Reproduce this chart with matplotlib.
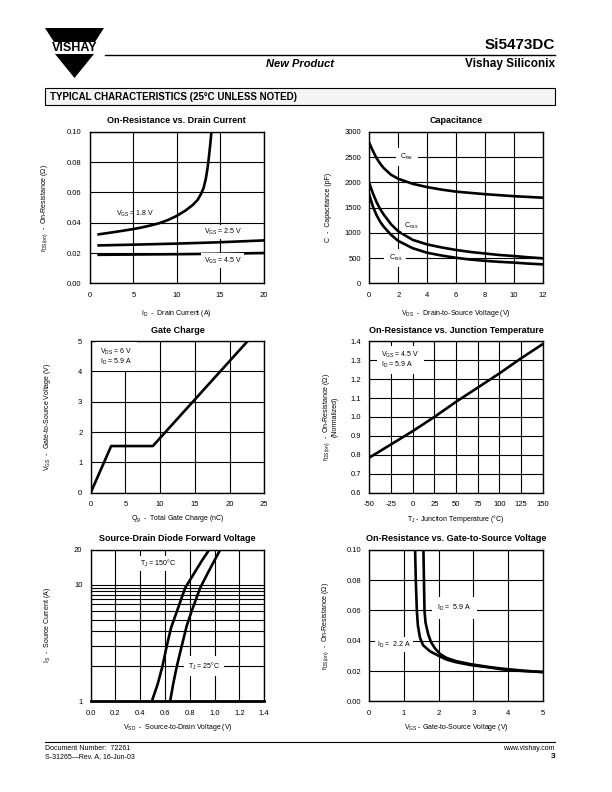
import matplotlib
matplotlib.use("Agg")
import matplotlib.pyplot as plt
from matplotlib.patches import Polygon, Rectangle
from matplotlib.lines import Line2D

plt.rcParams['font.family'] = ['Liberation Sans', 'DejaVu Sans']
plt.rcParams['mathtext.fontset'] = 'custom'
plt.rcParams['mathtext.rm'] = 'Liberation Sans'
plt.rcParams['mathtext.it'] = 'Liberation Sans:italic'
plt.rcParams['mathtext.bf'] = 'Liberation Sans:bold'
plt.rcParams['axes.unicode_minus'] = False

## data ##

# on-resistance vs drain current
id_18 = [1, 3, 5, 6, 7, 8, 9, 10, 11, 11.8, 12.4, 12.8, 13.1, 13.35, 13.55, 13.7, 13.85, 14.0]
r_18 = [0.0323, 0.034, 0.0358, 0.0369, 0.0382, 0.0397, 0.0418, 0.0445, 0.048, 0.0515, 0.055,
        0.059, 0.063, 0.069, 0.076, 0.083, 0.091, 0.100]
id_25 = [1, 5, 10, 15, 20]
r_25 = [0.025, 0.0255, 0.0262, 0.0271, 0.0283]
id_45 = [1, 5, 10, 15, 20]
r_45 = [0.0188, 0.019, 0.0192, 0.0195, 0.020]

# capacitance
vds = [0, 0.25, 0.5, 0.75, 1, 1.5, 2, 3, 4, 5, 6, 7, 8, 9, 10, 11, 12]
ciss = [2780, 2620, 2480, 2370, 2280, 2150, 2070, 1970, 1905, 1855, 1815, 1790, 1765, 1745, 1725, 1710, 1695]
coss = [1980, 1780, 1610, 1470, 1360, 1170, 1030, 860, 770, 710, 660, 620, 590, 560, 540, 515, 495]
crss = [1750, 1520, 1350, 1220, 1120, 960, 840, 695, 605, 550, 505, 470, 445, 425, 410, 390, 375]

# gate charge
qg = [0, 2.95, 8.95, 22.6]
vgs_q = [0, 1.54, 1.54, 5.0]

# on-resistance vs junction temperature
tj = [-50, -25, 0, 25, 50, 75, 100, 125, 150]
r_norm = [0.785, 0.855, 0.925, 1.0, 1.08, 1.155, 1.23, 1.31, 1.385]

# source-drain diode forward voltage
vsd_150 = [0.493, 0.54, 0.579, 0.614, 0.649, 0.695, 0.762, 0.843, 0.90, 0.956]
is_150 = [1, 1.4, 2, 3, 4.3, 5.9, 9.4, 13, 16.3, 20]
vsd_25 = [0.641, 0.665, 0.695, 0.735, 0.776, 0.816, 0.883, 0.951, 1.0, 1.045]
is_25 = [1, 1.4, 2, 3, 4.5, 6, 9.4, 13, 16.3, 20]
is_grid = [2, 3, 4, 5, 6, 6.9, 7.6, 8.2, 8.8, 9.4, 10]

# on-resistance vs gate-to-source voltage
vgs_22 = [1.32, 1.34, 1.37, 1.40, 1.46, 1.55, 1.75, 2.0, 2.23, 2.5, 2.9, 3.4, 3.85, 4.4, 5.0]
r_22 = [0.100, 0.080, 0.060, 0.050, 0.042, 0.037, 0.033, 0.030, 0.0275, 0.0258, 0.024,
        0.0225, 0.021, 0.020, 0.0193]
vgs_59 = [1.56, 1.575, 1.59, 1.62, 1.70, 1.78, 1.89, 2.05, 2.23, 2.5, 2.9, 3.4, 3.85, 4.4, 5.0]
r_59 = [0.100, 0.080, 0.060, 0.052, 0.044, 0.039, 0.035, 0.031, 0.0286, 0.0265, 0.0246,
        0.0228, 0.0215, 0.0203, 0.0193]

W, H = 612.0, 792.0
fig = plt.figure(figsize=(6.12, 7.92), dpi=100)

LW = 1.9
TICK = 5.5
LAB = 5.0
BOX = dict(fc='white', ec='none', pad=1.5)


def make_ax(x, ybot, title, xlab, ylab, xlab_y, ylab_x):
    ax = fig.add_axes([x / W, 1 - ybot / H, 173.5 / W, 151.5 / H])
    ax.set_title(title, fontsize=6.5, fontweight='bold', pad=6)
    ax.set_xlabel(xlab, fontsize=LAB)
    ax.set_ylabel(ylab, fontsize=LAB)
    ax.xaxis.set_label_coords(0.5, xlab_y)
    ax.yaxis.set_label_coords(ylab_x, 0.5)
    ax.tick_params(length=0, labelsize=TICK, pad=6)
    ax.grid(True, color='black', lw=0.8)
    ax.set_axisbelow(True)
    for s in ax.spines.values():
        s.set_linewidth(1.0)
    return ax


def fy(ax, fmt):
    ax.set_yticks(ax.get_yticks())
    ax.set_yticklabels([fmt.format(v) for v in ax.get_yticks()])


# 1. on-resistance vs drain current
ax1 = make_ax(90, 283.3, 'On-Resistance vs. Drain Current',
              r'I$_{\rm D}$  -  Drain Current (A)',
              r'r$_{\rm DS(on)}$  -  On-Resistance ($\Omega$)', -0.165, -0.23)
ax1.plot(id_18, r_18, color='black', lw=LW)
ax1.plot(id_25, r_25, color='black', lw=LW)
ax1.plot(id_45, r_45, color='black', lw=LW)
ax1.set_xlim(0, 20)
ax1.set_ylim(0, 0.10)
ax1.set_xticks([0, 5, 10, 15, 20])
ax1.set_yticks([0, 0.02, 0.04, 0.06, 0.08, 0.10])
fy(ax1, '{:.2f}')
ax1.text(5.2, 0.046, r'V$_{\rm GS}$ = 1.8 V', fontsize=5, ha='center', va='center')
ax1.text(15.3, 0.034, r'V$_{\rm GS}$ = 2.5 V', fontsize=5, ha='center', va='center', bbox=BOX)
ax1.text(15.3, 0.015, r'V$_{\rm GS}$ = 4.5 V', fontsize=5, ha='center', va='center', bbox=BOX)

# 2. capacitance
ax2 = make_ax(369.3, 283.3, 'Capacitance',
              r'V$_{\rm DS}$  -  Drain-to-Source Voltage (V)',
              r'C  -  Capacitance (pF)', -0.165, -0.215)
ax2.plot(vds, ciss, color='black', lw=LW)
ax2.plot(vds, coss, color='black', lw=LW)
ax2.plot(vds, crss, color='black', lw=LW)
ax2.set_xlim(0, 12)
ax2.set_ylim(0, 3000)
ax2.set_xticks(range(0, 13, 2))
ax2.set_yticks(range(0, 3001, 500))
ax2.text(2.6, 2500, r'C$_{\rm iss}$', fontsize=5, ha='center', va='center',
         bbox=dict(fc='white', ec='none', pad=3))
ax2.text(2.9, 1135, r'C$_{\rm oss}$', fontsize=5, ha='center', va='center', bbox=BOX)
ax2.text(1.8, 500, r'C$_{\rm rss}$', fontsize=5, ha='center', va='center',
         bbox=dict(fc='white', ec='none', pad=3))

# 3. gate charge
ax3 = make_ax(90.7, 492.7, 'Gate Charge',
              r'Q$_{\rm g}$  -  Total Gate Charge (nC)',
              r'V$_{\rm GS}$  -  Gate-to-Source Voltage (V)', -0.135, -0.22)
ax3.plot(qg, vgs_q, color='black', lw=LW)
ax3.set_xlim(0, 25)
ax3.set_ylim(0, 5)
ax3.set_xticks(range(0, 26, 5))
ax3.set_yticks(range(0, 6))
ax3.text(1.4, 4.82, 'V$_{\\rm DS}$ = 6 V\nI$_{\\rm D}$ = 5.9 A', fontsize=5, ha='left', va='top',
         linespacing=1.0, bbox=dict(fc='white', ec='none', pad=3))

# 4. on-resistance vs junction temperature
ax4 = make_ax(369.3, 492.7, 'On-Resistance vs. Junction Temperature',
              r'T$_{\rm J}$ - Junction Temperature ($\degree$C)',
              'r$_{\\rm DS(on)}$  -  On-Resistance ($\\Omega$)\n(Normalized)', -0.135, -0.175)
ax4.yaxis.label.set_linespacing(1.0)
ax4.plot(tj, r_norm, color='black', lw=LW)
ax4.set_xlim(-50, 150)
ax4.set_ylim(0.6, 1.4)
ax4.set_xticks(range(-50, 151, 25))
ax4.set_yticks([0.6, 0.7, 0.8, 0.9, 1.0, 1.1, 1.2, 1.3, 1.4])
fy(ax4, '{:.1f}')
ax4.text(-36, 1.355, 'V$_{\\rm GS}$ = 4.5 V\nI$_{\\rm D}$ = 5.9 A', fontsize=5, ha='left', va='top',
         linespacing=1.0, bbox=dict(fc='white', ec='none', pad=3))

# 5. source-drain diode forward voltage
ax5 = make_ax(90.7, 701.3, 'Source-Drain Diode Forward Voltage',
              r'V$_{\rm SD}$  -  Source-to-Drain Voltage (V)',
              r'I$_{\rm S}$  -  Source Current (A)', -0.135, -0.22)
ax5.set_yscale('log')
ax5.grid(False)
ax5.plot(vsd_150, is_150, color='black', lw=LW)
ax5.plot(vsd_25, is_25, color='black', lw=LW)
ax5.set_xlim(0, 1.4)
ax5.set_ylim(1, 20)
ax5.set_xticks([0.0, 0.2, 0.4, 0.6, 0.8, 1.0, 1.2, 1.4])
ax5.set_xticklabels(['{:.1f}'.format(v) for v in [0.0, 0.2, 0.4, 0.6, 0.8, 1.0, 1.2, 1.4]])
ax5.set_yticks([1, 10, 20])
ax5.set_yticklabels(['1', '10', '20'])
ax5.set_yticks(is_grid, minor=True)
ax5.tick_params(which='minor', length=0, labelleft=False)
ax5.yaxis.set_minor_formatter(plt.NullFormatter())
ax5.grid(True, axis='x', color='black', lw=0.8)
ax5.grid(True, axis='y', which='both', color='black', lw=0.8)
ax5.spines['bottom'].set_linewidth(2.0)
ax5.text(0.546, 15.3, r'T$_{\rm J}$ = 150$\degree$C', fontsize=5, ha='center', va='center', bbox=BOX)
ax5.text(0.915, 2.0, r'T$_{\rm J}$ = 25$\degree$C', fontsize=5, ha='center', va='center',
         bbox=dict(fc='white', ec='none', pad=3))

# 6. on-resistance vs gate-to-source voltage
ax6 = make_ax(369.3, 701.3, 'On-Resistance vs. Gate-to-Source Voltage',
              r'V$_{\rm GS}$ - Gate-to-Source Voltage (V)',
              r'r$_{\rm DS(on)}$  -  On-Resistance ($\Omega$)', -0.135, -0.22)
ax6.plot(vgs_22, r_22, color='black', lw=LW)
ax6.plot(vgs_59, r_59, color='black', lw=LW)
ax6.set_xlim(0, 5)
ax6.set_ylim(0, 0.10)
ax6.set_xticks(range(0, 6))
ax6.set_yticks([0, 0.02, 0.04, 0.06, 0.08, 0.10])
fy(ax6, '{:.2f}')
ax6.text(2.45, 0.0615, r'I$_{\rm D}$ =  5.9 A', fontsize=5, ha='center', va='center',
         bbox=dict(fc='white', ec='none', pad=4))
ax6.text(0.7, 0.0374, r'I$_{\rm D}$ =  2.2 A', fontsize=5, ha='center', va='center', bbox=BOX)

## page header / footer ##


def px(x, y):
    return (x / W, 1 - y / H)


logo_top = Polygon([px(45, 28), px(104, 28), px(95, 42), px(54, 42)], closed=True,
                   transform=fig.transFigure, fc='black', ec='none')
logo_bot = Polygon([px(55, 54), px(94, 54), px(74.5, 78)], closed=True,
                   transform=fig.transFigure, fc='black', ec='none')
fig.patches.extend([logo_top, logo_bot])
fig.text(*px(74.5, 48), 'VISHAY', fontsize=9, fontweight='bold', ha='center', va='center')

fig.lines.append(Line2D([105 / W, 555 / W], [1 - 55 / H] * 2, transform=fig.transFigure,
                        color='black', lw=1.0))
fig.text(*px(555, 45), 'Si5473DC', fontsize=11, fontweight='bold', ha='right', va='center')
fig.text(*px(300, 64), 'New Product', fontsize=8, fontweight='bold', style='italic',
         ha='center', va='center')
fig.text(*px(555, 64), 'Vishay Siliconix', fontsize=8.5, fontweight='bold', ha='right', va='center')

fig.patches.append(Rectangle(px(45, 105), 510 / W, 17 / H, transform=fig.transFigure,
                             fc='#f4f4f4', ec='black', lw=0.8))
fig.text(*px(50, 97), 'TYPICAL CHARACTERISTICS (25°C UNLESS NOTED)', fontsize=7,
         fontweight='bold', ha='left', va='center')

fig.lines.append(Line2D([45 / W, 555 / W], [1 - 742 / H] * 2, transform=fig.transFigure,
                        color='black', lw=0.8))
fig.text(*px(45, 749), 'Document Number:  72261', fontsize=5, ha='left', va='center')
fig.text(*px(45, 757), 'S-31265\u2014Rev. A, 16-Jun-03', fontsize=5, ha='left', va='center')
fig.text(*px(555, 749), 'www.vishay.com', fontsize=5, ha='right', va='center')
fig.text(*px(555, 757), '3', fontsize=6, fontweight='bold', ha='right', va='center')

fig.savefig('out.png', dpi=100)
